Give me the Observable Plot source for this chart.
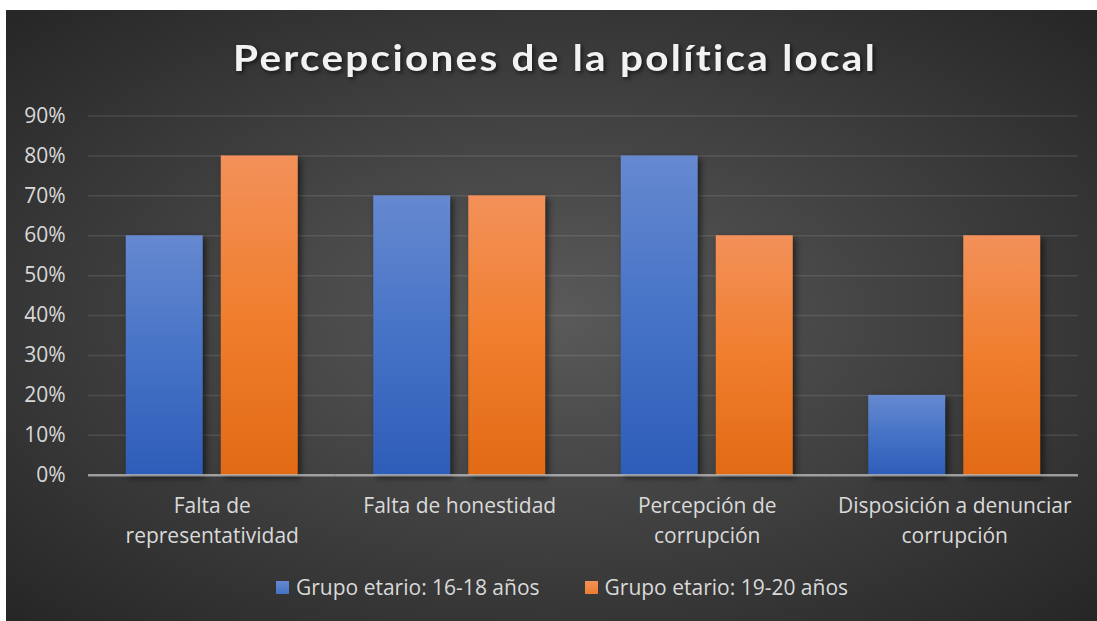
<!DOCTYPE html>
<html><head><meta charset="utf-8">
<script src="https://cdn.jsdelivr.net/npm/d3@7"></script>
<script src="https://cdn.jsdelivr.net/npm/@observablehq/plot@0.6"></script>
<style>
html,body{margin:0;padding:0;background:#fff;}
#wrap{position:relative;width:1097px;height:621px;overflow:hidden;font-family:"Open Sans",sans-serif;}
#bg{position:absolute;left:6px;top:10px;right:0;bottom:0;background:radial-gradient(ellipse farthest-corner at 50% 50%, #5a5a5a 0%, #262626 100%);}
#title{position:absolute;left:0;top:0;}
#title text{filter:drop-shadow(2px 2px 2px rgba(0,0,0,0.6));}
#chart{position:absolute;left:0;top:90px;}
#legend{position:absolute;left:276px;top:574px;display:flex;align-items:center;color:#d9d9d9;font-size:21px;line-height:27px;white-space:nowrap;}
#legend .item{display:flex;align-items:center;}
#legend .sw{width:13px;height:13px;margin-right:7px;}
#chart g[aria-label="bar"] rect{filter:drop-shadow(3px 3px 3px rgba(0,0,0,0.55));}
</style></head><body>
<div id="wrap">
  <div id="bg"></div>
  <svg id="title" width="1097" height="90"><text id="titleText" x="555" y="71" text-anchor="middle" font-family="Lato, 'Open Sans', sans-serif" font-weight="700" font-size="36" letter-spacing="2" fill="#f2f2f2" textLength="644" lengthAdjust="spacingAndGlyphs">Percepciones de la política local</text></svg>
  <div id="chart"></div>
  <div id="legend"></div>
</div>
<script>
const categories = ["Falta de representatividad", "Falta de honestidad", "Percepción de corrupción", "Disposición a denunciar corrupción"];
const categoryLabels = ["Falta de\nrepresentatividad", "Falta de honestidad", "Percepción de\ncorrupción", "Disposición a denunciar\ncorrupción"];
const groups = ["Grupo etario: 16-18 años", "Grupo etario: 19-20 años"];
const values1618 = [0.6, 0.7, 0.8, 0.2];
const values1920 = [0.8, 0.7, 0.6, 0.6];
const yTicks = [0, 0.1, 0.2, 0.3, 0.4, 0.5, 0.6, 0.7, 0.8, 0.9];
const yTickLabels = ["0%", "10%", "20%", "30%", "40%", "50%", "60%", "70%", "80%", "90%"];
const barFills = ["url(#gradBlue)", "url(#gradOrange)"];
const legendColors = ["#4472c4", "#ed7d31"];

const data = categories.flatMap((c, i) => [
  {category: c, group: groups[0], value: values1618[i]},
  {category: c, group: groups[1], value: values1920[i]}
]);

const plot = Plot.plot({
  width: 1097, height: 470,
  marginTop: 25.5, marginBottom: 85.3, marginLeft: 88, marginRight: 19,
  style: {background: "transparent", fontFamily: "'Open Sans', sans-serif", fontSize: "21px", color: "#d9d9d9", overflow: "visible"},
  fx: {domain: categories, paddingInner: 0, paddingOuter: 0, round: false, label: null, axis: null},
  x: {domain: groups, paddingInner: 0.1895, paddingOuter: 0.397, round: false, axis: null},
  y: {domain: [0, 0.9], axis: null},
  color: {domain: groups, range: barFills},
  marks: [
    Plot.gridY(yTicks, {stroke: "#d9d9d9", strokeOpacity: 0.13, strokeWidth: 1.5}),
    Plot.barY(data, {fx: "category", x: "group", y: "value", fill: "group"}),
    Plot.ruleY([0], {stroke: "#d9d9d9", strokeOpacity: 0.6, strokeWidth: 2.5}),
    Plot.axisY(yTicks, {tickSize: 0, tickPadding: 23, label: null, tickFormat: d => yTickLabels[yTicks.findIndex(t => Math.abs(t - d) < 1e-9)], fill: "#d9d9d9", fontSize: 21}),
    Plot.axisFx({anchor: "bottom", tickSize: 0, tickPadding: 17.5, tickFormat: d => categoryLabels[categories.indexOf(d)], fill: "#d9d9d9", fontSize: 21, lineHeight: 1.39, label: null})
  ]
});

const defs = document.createElementNS("http://www.w3.org/2000/svg", "defs");
defs.innerHTML = `
<linearGradient id="gradBlue" x1="0" y1="0" x2="0" y2="1">
  <stop offset="0" stop-color="#6689d0"/><stop offset="0.5" stop-color="#4673c6"/><stop offset="1" stop-color="#2e5db9"/>
</linearGradient>
<linearGradient id="gradOrange" x1="0" y1="0" x2="0" y2="1">
  <stop offset="0" stop-color="#f3915a"/><stop offset="0.5" stop-color="#f07e2e"/><stop offset="1" stop-color="#e26a14"/>
</linearGradient>`;
plot.insertBefore(defs, plot.firstChild);
document.getElementById("chart").appendChild(plot);

const legend = document.getElementById("legend");
groups.forEach((g, i) => {
  const item = document.createElement("div");
  item.className = "item";
  if (i === 0) item.style.marginRight = "45px";
  const sw = document.createElement("div");
  sw.className = "sw";
  sw.style.background = `linear-gradient(${["#6689d0", "#f3915a"][i]}, ${legendColors[i]})`;
  const t = document.createElement("span");
  t.textContent = g;
  item.appendChild(sw); item.appendChild(t);
  legend.appendChild(item);
});
</script>
</body></html>
